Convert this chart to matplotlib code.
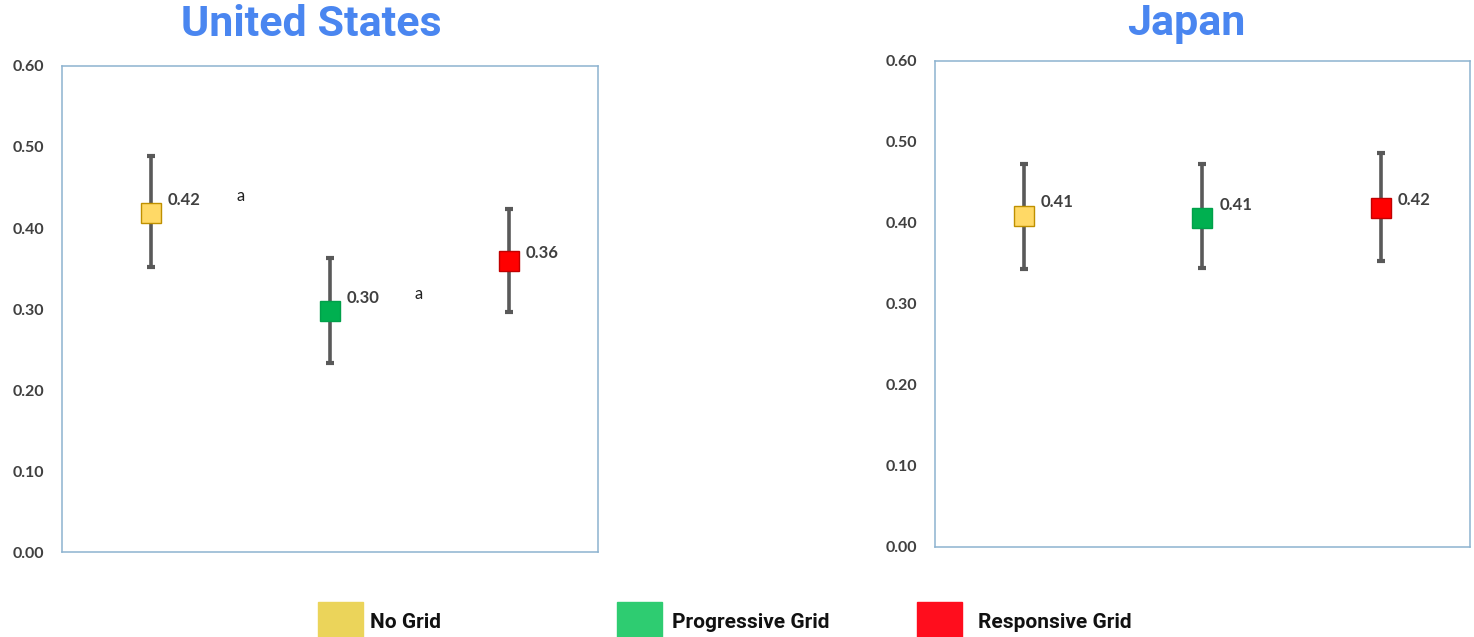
import matplotlib.pyplot as plt
from matplotlib.patches import Rectangle

# data
groups = ["No Grid", "Progressive Grid", "Responsive Grid"]
us_mean = [0.418, 0.297, 0.359]
us_low = [0.352, 0.233, 0.296]
us_high = [0.489, 0.363, 0.423]
us_labels = ["0.42", "0.30", "0.36"]
us_letters = ["a", "a", ""]

jp_mean = [0.409, 0.406, 0.418]
jp_low = [0.343, 0.344, 0.353]
jp_high = [0.473, 0.473, 0.486]
jp_labels = ["0.41", "0.41", "0.42"]

marker_face = ["#FFD966", "#00B050", "#FF0000"]
marker_edge = ["#BF9000", "#00A04A", "#C00000"]
legend_colors = ["#EBD45A", "#2ECC71", "#FF0D1D"]
yticks = [0.0, 0.1, 0.2, 0.3, 0.4, 0.5, 0.6]

W, H = 1474, 637
fig = plt.figure(figsize=(W / 100, H / 100), dpi=100)
ax1 = fig.add_axes([0.0421, 0.1334, 0.3636, 0.763])
ax2 = fig.add_axes([0.6343, 0.1413, 0.3630, 0.763])

label_dy = [4, 4, 0]  # label lift above point, per series (points)


def draw(ax, mean, low, high, labels, letters=None):
    xs = [1, 2, 3]
    for i, x in enumerate(xs):
        err = [[mean[i] - low[i]], [high[i] - mean[i]]]
        ax.errorbar([x], [mean[i]], yerr=err, fmt='none', ecolor='#595959',
                    elinewidth=2.6, capsize=3, capthick=3, zorder=2)
        ax.plot([x], [mean[i]], marker='s', markersize=14, color=marker_face[i],
                markeredgecolor=marker_edge[i], markeredgewidth=1, zorder=3)
        ax.annotate(labels[i], (x, mean[i]), xytext=(12, label_dy[i]), textcoords='offset points',
                    fontsize=12, fontweight='bold', color='#404040', family='Lato',
                    va='bottom', ha='left')
        if letters and letters[i]:
            ax.annotate(letters[i], (x, mean[i]), xytext=(61, 7), textcoords='offset points',
                        fontsize=12, color='#222222', family='Lato', va='bottom', ha='left')
    ax.set_xlim(0.5, 3.5)
    ax.set_ylim(0, 0.6)
    ax.set_xticks([])
    ax.set_yticks(yticks)
    ax.set_yticklabels(["%.2f" % t for t in yticks], fontsize=11.5, fontweight='bold',
                       color='#404040', family='Lato')
    ax.tick_params(axis='y', length=0, pad=13)
    for s in ax.spines.values():
        s.set_color('#8DB3D0')
        s.set_linewidth(1.1)


draw(ax1, us_mean, us_low, us_high, us_labels, us_letters)
draw(ax2, jp_mean, jp_low, jp_high, jp_labels)

# panel titles
fig.text(311 / W, 1 - 24 / H, "United States", fontsize=31, fontweight='bold',
         color='#4A86F0', family='Roboto', ha='center', va='center')
fig.text(1186 / W, 1 - 24 / H, "Japan", fontsize=31, fontweight='bold',
         color='#4A86F0', family='Roboto', ha='center', va='center')

# legend along the bottom
leg_x = [318, 617, 917]
leg_tx = [370, 672, 978]
for i, name in enumerate(groups):
    fig.add_artist(Rectangle((leg_x[i] / W, 0.0), 45 / W, 35 / H,
                             transform=fig.transFigure, color=legend_colors[i]))
    fig.text(leg_tx[i] / W, 15 / H, name, fontsize=15, fontweight='bold',
             family='Roboto', color='#111111', va='center', ha='left')

fig.savefig("out.png", dpi=100)
